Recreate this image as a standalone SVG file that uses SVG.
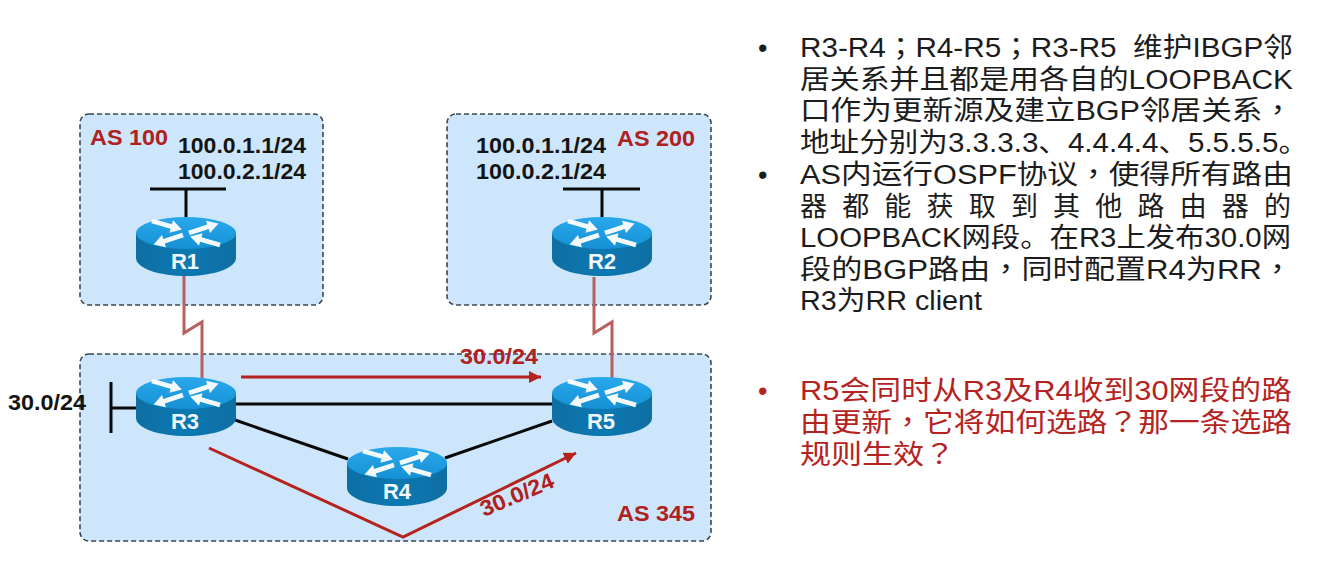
<svg xmlns="http://www.w3.org/2000/svg" width="1327" height="586" viewBox="0 0 1327 586">
<style>
.as{fill:#cde6fc;stroke:#3c4650;stroke-width:1.6;stroke-dasharray:5 3}
.blk{fill:none;stroke:#0a0a0a;stroke-width:3}
.wan{fill:none;stroke:#b9605f;stroke-width:3}
.red{fill:none;stroke:#b5231f;stroke-width:3}
.lbl{font-family:"Liberation Sans",Arial,sans-serif;font-weight:bold;font-size:22px;fill:#141414}
.asl{font-family:"Liberation Sans",Arial,sans-serif;font-weight:bold;font-size:22px;fill:#b0201c}
.rn{font-family:"Liberation Sans",Arial,sans-serif;font-weight:bold;font-size:22px;fill:#f2f8fc;text-anchor:middle}
.t{font-family:"Liberation Sans","Noto Sans CJK SC",sans-serif;font-size:27px;fill:#1c1c1c}
.tr{font-family:"Liberation Sans","Noto Sans CJK SC",sans-serif;font-size:27px;fill:#b5231f}
.p{font-family:"Noto Sans CJK TC",sans-serif}
</style>
<defs>
<marker id="ah" markerUnits="userSpaceOnUse" markerWidth="13" markerHeight="12" refX="12" refY="6" orient="auto"><path d="M0 0L12 6L0 12Z" fill="#b5231f"/></marker>
<linearGradient id="top" x1="0" y1="0" x2="0" y2="1"><stop offset="0" stop-color="#2aa9ec"/><stop offset="1" stop-color="#1590d4"/></linearGradient>
<linearGradient id="side" x1="0" y1="0" x2="1" y2="0"><stop offset="0" stop-color="#0f6fa3"/><stop offset=".5" stop-color="#0c78b2"/><stop offset="1" stop-color="#0f6fa3"/></linearGradient>
<path id="ar" d="M0 -2.4L20 -2.4L20 -6.5L31 0L20 6.5L20 2.4L0 2.4Z" fill="#f4f9fc"/>
<g id="router">
<path d="M-50 0V25C-50 35 -28 43 0 43C28 43 50 35 50 25V0Z" fill="url(#side)"/>
<ellipse cx="0" cy="0" rx="50" ry="16" fill="url(#top)"/>
<use href="#ar" transform="translate(3,0) rotate(-18)"/>
<use href="#ar" transform="translate(-3,2) rotate(162)"/>
<use href="#ar" transform="translate(-34,-12) rotate(16)"/>
<use href="#ar" transform="translate(34,12) rotate(196)"/>
</g>
</defs>
<rect width="1327" height="586" fill="#fff"/>
<g id="as100"><rect class="as" x="80" y="114" width="243" height="191" rx="9"/><text class="asl" x="90" y="145" textLength="78" lengthAdjust="spacingAndGlyphs">AS 100</text></g>
<g id="as200"><rect class="as" x="447" y="114" width="264" height="191" rx="9"/><text class="asl" x="617" y="146" textLength="78" lengthAdjust="spacingAndGlyphs">AS 200</text></g>
<g id="as345"><rect class="as" x="80" y="354" width="631" height="187" rx="9"/><text class="asl" x="617" y="521" textLength="78" lengthAdjust="spacingAndGlyphs">AS 345</text></g>
<g id="connectors">
<path class="blk" d="M150 189H226M186 189V217"/>
<path class="blk" d="M563 189H640M602 189V217"/>
<path class="blk" d="M111 382V433M111 408H136"/>
<path class="blk" d="M235 404H552"/>
<path class="blk" d="M235 420L348 459"/>
<path class="blk" d="M445 458L552 421"/>
<path class="wan" d="M184 276V333L202 322V378"/>
<path class="wan" d="M594 277V333L612 322V378"/>
<path class="red" d="M241 377H541" marker-end="url(#ah)"/>
<path class="red" d="M209 448L403 537L576 453" marker-end="url(#ah)"/>
</g>
<g id="r1"><use href="#router" x="186" y="233"/><text class="rn" x="185" y="269">R1</text></g>
<g id="r2"><use href="#router" x="602" y="233"/><text class="rn" x="602" y="269">R2</text></g>
<g id="r3"><use href="#router" x="186" y="393"/><text class="rn" x="185" y="429">R3</text></g>
<g id="r5"><use href="#router" x="602" y="393"/><text class="rn" x="601" y="429">R5</text></g>
<g id="r4"><use href="#router" x="397" y="463"/><text class="rn" x="397" y="499">R4</text></g>
<g id="labels">
<text class="lbl" x="178" y="153" textLength="128" lengthAdjust="spacingAndGlyphs">100.0.1.1/24</text>
<text class="lbl" x="178" y="179" textLength="128" lengthAdjust="spacingAndGlyphs">100.0.2.1/24</text>
<text class="lbl" x="476" y="153" textLength="130" lengthAdjust="spacingAndGlyphs">100.0.1.1/24</text>
<text class="lbl" x="476" y="179" textLength="130" lengthAdjust="spacingAndGlyphs">100.0.2.1/24</text>
<text class="lbl" x="8" y="410" textLength="78" lengthAdjust="spacingAndGlyphs">30.0/24</text>
<text class="asl" x="460" y="364" textLength="78" lengthAdjust="spacingAndGlyphs">30.0/24</text>
<text class="asl" transform="translate(484,517) rotate(-23)" textLength="78" lengthAdjust="spacingAndGlyphs">30.0/24</text>
</g>
<g id="notes">
<text class="t" x="758" y="57">•</text>
<text class="t" x="800" y="57" textLength="493" lengthAdjust="spacingAndGlyphs">R3-R4<tspan class="p">；</tspan>R4-R5<tspan class="p">；</tspan>R3-R5&#160;&#160;维护IBGP邻</text>
<text class="t" x="800" y="89" textLength="493" lengthAdjust="spacingAndGlyphs">居关系并且都是用各自的LOOPBACK</text>
<text class="t" x="800" y="120" textLength="493" lengthAdjust="spacingAndGlyphs">口作为更新源及建立BGP邻居关系<tspan class="p">，</tspan></text>
<text class="t" x="800" y="152" textLength="508" lengthAdjust="spacingAndGlyphs">地址分别为3.3.3.3、4.4.4.4、5.5.5.5。</text>
<text class="t" x="758" y="184">•</text>
<text class="t" x="800" y="184" textLength="493" lengthAdjust="spacingAndGlyphs">AS内运行OSPF协议<tspan class="p">，</tspan>使得所有路由</text>
<text class="t" x="800" y="216" textLength="491">器都能获取到其他路由器的</text>
<text class="t" x="800" y="247" textLength="491" lengthAdjust="spacingAndGlyphs">LOOPBACK网段。在R3上发布30.0网</text>
<text class="t" x="800" y="279" textLength="493" lengthAdjust="spacingAndGlyphs">段的BGP路由<tspan class="p">，</tspan>同时配置R4为RR<tspan class="p">，</tspan></text>
<text class="t" x="800" y="310" textLength="182" lengthAdjust="spacingAndGlyphs">R3为RR client</text>
<text class="tr" x="758" y="400">•</text>
<text class="tr" x="800" y="400" textLength="492" lengthAdjust="spacingAndGlyphs">R5会同时从R3及R4收到30网段的路</text>
<text class="tr" x="800" y="432" textLength="492" lengthAdjust="spacingAndGlyphs">由更新<tspan class="p">，</tspan>它将如何选路<tspan class="p">？</tspan>那一条选路</text>
<text class="tr" x="800" y="464" textLength="155" lengthAdjust="spacingAndGlyphs">规则生效<tspan class="p">？</tspan></text>
</g>
</svg>
